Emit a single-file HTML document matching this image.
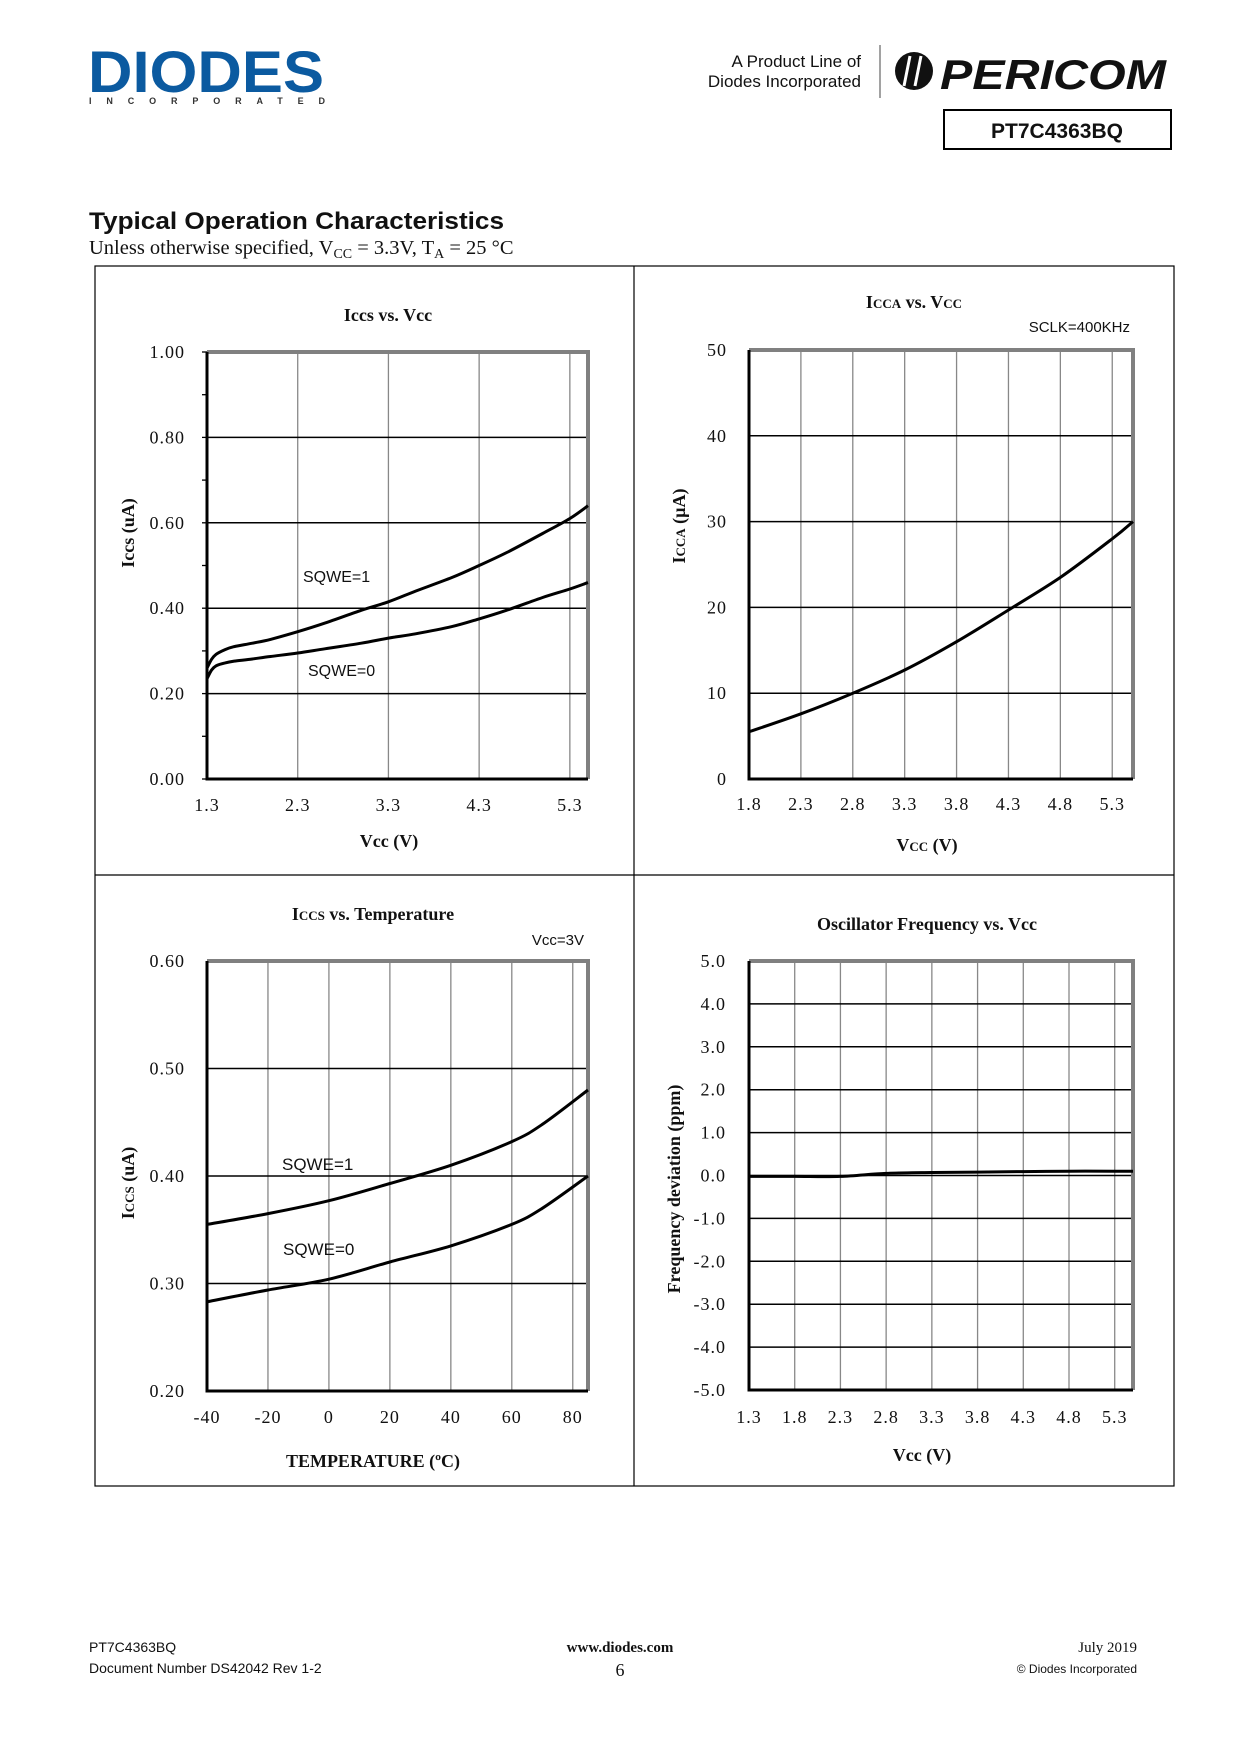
<!DOCTYPE html>
<html><head><meta charset="utf-8"><style>
body{margin:0;background:#fff;}
svg{display:block;}
text{font-family:"Liberation Serif",serif;fill:#111;}
.sans{font-family:"Liberation Sans",sans-serif;}
</style></head><body>
<svg id="page" width="1241" height="1754" viewBox="0 0 1241 1754" xmlns="http://www.w3.org/2000/svg">
<g>
<text x="88" y="92" class="sans" font-size="58" font-weight="900" style="fill:#0b5aa0" textLength="236" lengthAdjust="spacingAndGlyphs">DIODES</text>
<text x="89" y="104" class="sans" font-size="9" font-weight="bold" textLength="236" lengthAdjust="spacing" style="fill:#333">INCORPORATED</text>
</g>
<text x="861" y="67" class="sans" font-size="17" text-anchor="end">A Product Line of</text>
<text x="861" y="87" class="sans" font-size="17" text-anchor="end">Diodes Incorporated</text>
<line x1="880" y1="45" x2="880" y2="98" stroke="#444" stroke-width="1"/>
<g>
<circle cx="914" cy="71" r="19" fill="#111"/>
<path d="M910 56 L904 86 M921 56 L915 86" stroke="#fff" stroke-width="3"/>
<text x="940" y="89" class="sans" font-size="42" font-weight="bold" font-style="italic" textLength="226" lengthAdjust="spacingAndGlyphs">PERICOM</text>
</g>
<rect x="944" y="110" width="227" height="39" fill="none" stroke="#000" stroke-width="2"/>
<text x="1057" y="138" class="sans" font-size="21" font-weight="bold" text-anchor="middle">PT7C4363BQ</text>
<text x="89" y="229" class="sans" font-size="24" font-weight="bold" textLength="415" lengthAdjust="spacingAndGlyphs">Typical Operation Characteristics</text>
<text x="89" y="254" font-size="20.5">Unless otherwise specified, V<tspan font-size="14" dy="4">CC</tspan><tspan dy="-4"> = 3.3V, T</tspan><tspan font-size="14" dy="4">A</tspan><tspan dy="-4"> = 25 °C</tspan></text>
<g fill="none" stroke="#000" stroke-width="1.2">
<rect x="95" y="266" width="1079" height="1220"/>
<line x1="634" y1="266" x2="634" y2="1486"/>
<line x1="95" y1="875" x2="1174" y2="875"/>
</g>
<g id="charts"></g>
<text x="89" y="1652" class="sans" font-size="14">PT7C4363BQ</text>
<text x="89" y="1673" class="sans" font-size="14">Document Number DS42042 Rev 1-2</text>
<text x="620" y="1652" font-size="15" font-weight="bold" text-anchor="middle">www.diodes.com</text>
<text x="620" y="1676" font-size="18" text-anchor="middle">6</text>
<text x="1137" y="1652" font-size="15" text-anchor="end">July 2019</text>
<text x="1137" y="1673" class="sans" font-size="12" text-anchor="end">© Diodes Incorporated</text>
</svg>
<script>
// Chart 1: Iccs vs Vcc
const c1X = [1.3,1.35,1.4,1.5,1.6,1.8,2.0,2.3,2.6,3.0,3.3,3.6,4.0,4.3,4.6,5.0,5.3,5.5];
const c1Sqwe1 = [0.26,0.28,0.292,0.303,0.31,0.318,0.327,0.345,0.365,0.395,0.415,0.44,0.472,0.50,0.53,0.575,0.61,0.64];
const c1Sqwe0 = [0.235,0.255,0.265,0.272,0.276,0.281,0.287,0.295,0.305,0.318,0.33,0.34,0.357,0.375,0.395,0.425,0.445,0.46];
const c1XTicks = ["1.3","2.3","3.3","4.3","5.3"];
const c1YTicks = ["0.00","0.20","0.40","0.60","0.80","1.00"];
// Chart 2: Icca vs Vcc
const c2X = [1.8,2.3,2.8,3.3,3.8,4.3,4.8,5.3,5.5];
const c2Icca = [5.5,7.6,10,12.7,16,19.7,23.5,28,30];
const c2XTicks = ["1.8","2.3","2.8","3.3","3.8","4.3","4.8","5.3"];
const c2YTicks = ["0","10","20","30","40","50"];
// Chart 3: Iccs vs Temperature
const c3X = [-40,-20,0,20,40,60,70,85];
const c3Sqwe1 = [0.355,0.365,0.377,0.393,0.41,0.432,0.448,0.48];
const c3Sqwe0 = [0.283,0.294,0.304,0.32,0.335,0.355,0.37,0.40];
const c3XTicks = ["-40","-20","0","20","40","60","80"];
const c3YTicks = ["0.20","0.30","0.40","0.50","0.60"];
// Chart 4: Oscillator frequency vs Vcc
const c4X = [1.3,1.8,2.3,2.8,3.3,3.8,4.3,4.8,5.3,5.5];
const c4Dev = [-0.02,-0.02,-0.02,0.05,0.07,0.08,0.09,0.1,0.1,0.1];
const c4XTicks = ["1.3","1.8","2.3","2.8","3.3","3.8","4.3","4.8","5.3"];
const c4YTicks = ["-5.0","-4.0","-3.0","-2.0","-1.0","0.0","1.0","2.0","3.0","4.0","5.0"];

const NS = "http://www.w3.org/2000/svg";
const root = document.getElementById('charts');
function mk(tag, attrs, parent, txt){
  const e = document.createElementNS(NS, tag);
  for (const k in attrs) e.setAttribute(k, attrs[k]);
  if (txt !== undefined) e.textContent = txt;
  parent.appendChild(e);
  return e;
}
function smoothPath(pts){
  let d = 'M' + pts[0][0].toFixed(1) + ' ' + pts[0][1].toFixed(1);
  for (let i = 0; i < pts.length - 1; i++) {
    const p0 = pts[Math.max(0, i - 1)], p1 = pts[i], p2 = pts[i + 1], p3 = pts[Math.min(pts.length - 1, i + 2)];
    const c1 = [p1[0] + (p2[0] - p0[0]) / 6, p1[1] + (p2[1] - p0[1]) / 6];
    const c2 = [p2[0] - (p3[0] - p1[0]) / 6, p2[1] - (p3[1] - p1[1]) / 6];
    d += ' C' + c1[0].toFixed(1) + ' ' + c1[1].toFixed(1) + ' ' + c2[0].toFixed(1) + ' ' + c2[1].toFixed(1) + ' ' + p2[0].toFixed(1) + ' ' + p2[1].toFixed(1);
  }
  return d;
}
function chart(o){
  const g = mk('g', {}, root);
  
  
  const sx = v => o.L + (v - o.xmin) / (o.xmax - o.xmin) * (o.R - o.L);
  const sy = v => o.B - (v - o.ymin) / (o.ymax - o.ymin) * (o.B - o.T);
  o.xTicks.forEach(t => {
    const v = parseFloat(t);
    if (Math.abs(v - o.xmin) > 1e-6) {
      const ln = mk('line', {x1:sx(v), x2:sx(v), y1:o.T, y2:o.B, stroke:'#888', 'stroke-width':1.3}, g);
      
      
    }
    const tl = mk('text', {x:sx(v), y:o.xLabY, 'font-size':18, 'text-anchor':'middle', 'letter-spacing':'1'}, g, t);
    
    
  });
  o.yTicks.forEach(t => {
    const v = parseFloat(t);
    if (Math.abs(v - o.ymin) > 1e-6 && Math.abs(v - o.ymax) > 1e-6) {
      const ln = mk('line', {x1:o.L, x2:o.R, y1:sy(v), y2:sy(v), stroke:'#000', 'stroke-width':1.5}, g);
      
      
    }
    const tl = mk('text', {x:o.L - o.yLabGap, y:sy(v) + 6, 'font-size':18, 'text-anchor':'end', 'letter-spacing':'1'}, g, t);
    
    
  });
  if (o.minor) {
    for (let v = o.ymin; v <= o.ymax + 1e-9; v += o.minor) {
      const tk = mk('line', {x1:o.L - 5, x2:o.L, y1:sy(v), y2:sy(v), stroke:'#000', 'stroke-width':1.3}, g);
      
      
    }
  }
  const fr = mk('path', {d:`M${o.L} ${o.T} H${o.R} V${o.B}`, fill:'none', stroke:'#808080', 'stroke-width':4}, g);
  
  
  const ax = mk('path', {d:`M${o.L} ${o.T} V${o.B} H${o.R}`, fill:'none', stroke:'#000', 'stroke-width':3}, g);
  
  
  o.series.forEach(s => {
    const pts = s.y.map((v, i) => [sx(o.x[i]), sy(v)]);
    const p = mk('path', {d:smoothPath(pts), fill:'none', stroke:'#000', 'stroke-width':3, 'stroke-linejoin':'round'}, g);
    
    
  });
  return g;
}
function txt(parent, name, attrs, content){
  const t = mk('text', attrs, parent);
  t.innerHTML = content;
  
  
  return t;
}
const g1 = chart({name:'chart-iccs-vs-vcc', L:207, R:588, T:352, B:779, xmin:1.3, xmax:5.5, ymin:0, ymax:1, x:c1X, xTicks:c1XTicks, yTicks:c1YTicks, minor:0.1, xLabY:811, yLabGap:22,
  series:[{name:'line-sqwe1', y:c1Sqwe1},{name:'line-sqwe0', y:c1Sqwe0}]});
txt(g1, 'chart-title', {x:388, y:321, 'font-size':18, 'font-weight':'bold', 'text-anchor':'middle'}, 'Iccs vs. Vcc');
txt(g1, 'x-axis-title', {x:389, y:847, 'font-size':18, 'font-weight':'bold', 'text-anchor':'middle'}, 'Vcc (V)');
txt(g1, 'y-axis-title', {x:0, y:0, 'font-size':18, 'font-weight':'bold', 'text-anchor':'middle', transform:'translate(134,533) rotate(-90)'}, 'Iccs (uA)');
txt(g1, 'label-sqwe1', {x:303, y:582, 'font-size':16, class:'sans'}, 'SQWE=1');
txt(g1, 'label-sqwe0', {x:308, y:676, 'font-size':16, class:'sans'}, 'SQWE=0');

const g2 = chart({name:'chart-icca-vs-vcc', L:749, R:1133, T:350, B:779, xmin:1.8, xmax:5.5, ymin:0, ymax:50, x:c2X, xTicks:c2XTicks, yTicks:c2YTicks, xLabY:810, yLabGap:22,
  series:[{name:'line-icca', y:c2Icca}]});
txt(g2, 'chart-title', {x:914, y:308, 'font-size':18, 'font-weight':'bold', 'text-anchor':'middle'}, 'I<tspan font-size="13">CCA</tspan>  vs. V<tspan font-size="13">CC</tspan>');
txt(g2, 'sclk-note', {x:1130, y:332, 'font-size':15, class:'sans', 'text-anchor':'end'}, 'SCLK=400KHz');
txt(g2, 'x-axis-title', {x:927, y:851, 'font-size':18, 'font-weight':'bold', 'text-anchor':'middle'}, 'V<tspan font-size="13">CC</tspan> (V)');
txt(g2, 'y-axis-title', {x:0, y:0, 'font-size':18, 'font-weight':'bold', 'text-anchor':'middle', transform:'translate(685,526) rotate(-90)'}, 'I<tspan font-size="13">CCA</tspan> (µA)');

const g3 = chart({name:'chart-iccs-vs-temperature', L:207, R:588, T:961, B:1391, xmin:-40, xmax:85, ymin:0.2, ymax:0.6, x:c3X, xTicks:c3XTicks, yTicks:c3YTicks, xLabY:1423, yLabGap:22,
  series:[{name:'line-sqwe1', y:c3Sqwe1},{name:'line-sqwe0', y:c3Sqwe0}]});
txt(g3, 'chart-title', {x:373, y:920, 'font-size':18, 'font-weight':'bold', 'text-anchor':'middle'}, 'I<tspan font-size="13">CCS</tspan>  vs. Temperature');
txt(g3, 'vcc-note', {x:584, y:945, 'font-size':15, class:'sans', 'text-anchor':'end'}, 'Vcc=3V');
txt(g3, 'x-axis-title', {x:373, y:1467, 'font-size':18, 'font-weight':'bold', 'text-anchor':'middle'}, 'TEMPERATURE  (ºC)');
txt(g3, 'y-axis-title', {x:0, y:0, 'font-size':18, 'font-weight':'bold', 'text-anchor':'middle', transform:'translate(134,1183) rotate(-90)'}, 'I<tspan font-size="13">CCS</tspan> (uA)');
txt(g3, 'label-sqwe1', {x:282, y:1170, 'font-size':17, class:'sans'}, 'SQWE=1');
txt(g3, 'label-sqwe0', {x:283, y:1255, 'font-size':17, class:'sans'}, 'SQWE=0');

const g4 = chart({name:'chart-oscillator-frequency-vs-vcc', L:749, R:1133, T:961, B:1390, xmin:1.3, xmax:5.5, ymin:-5, ymax:5, x:c4X, xTicks:c4XTicks, yTicks:c4YTicks, xLabY:1423, yLabGap:23,
  series:[{name:'line-frequency-deviation', y:c4Dev}]});
txt(g4, 'chart-title', {x:927, y:930, 'font-size':18, 'font-weight':'bold', 'text-anchor':'middle'}, 'Oscillator Frequency  vs. Vcc');
txt(g4, 'x-axis-title', {x:922, y:1461, 'font-size':18, 'font-weight':'bold', 'text-anchor':'middle'}, 'Vcc (V)');
txt(g4, 'y-axis-title', {x:0, y:0, 'font-size':18, 'font-weight':'bold', 'text-anchor':'middle', transform:'translate(680,1189) rotate(-90)'}, 'Frequency  deviation  (ppm)');
</script>
</body></html>
